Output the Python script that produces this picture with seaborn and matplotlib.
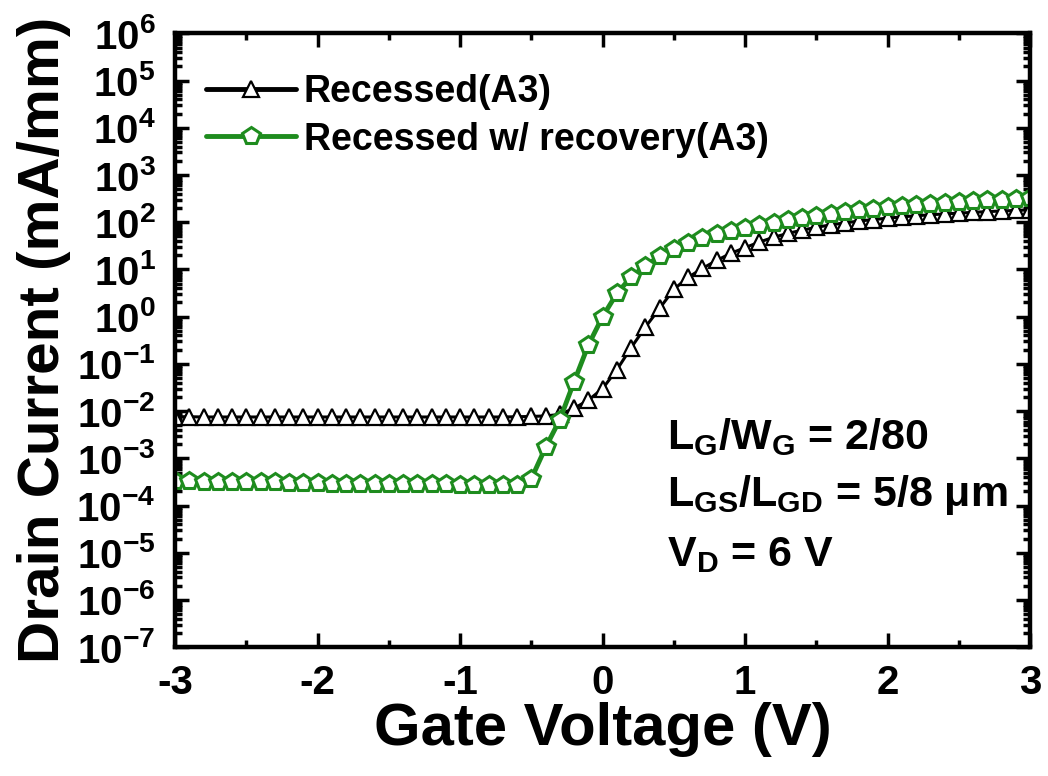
import numpy as np
import pandas as pd
import seaborn as sns
import matplotlib.pyplot as plt
from matplotlib.ticker import LogLocator, MultipleLocator, NullFormatter

sns.set_style("ticks")
plt.rcParams["font.family"] = ["Liberation Sans", "DejaVu Sans"]
plt.rcParams["font.weight"] = "bold"
plt.rcParams["mathtext.fontset"] = "custom"
plt.rcParams["mathtext.rm"] = "Liberation Sans:bold"
plt.rcParams["mathtext.bf"] = "Liberation Sans:bold"
plt.rcParams["mathtext.it"] = "Liberation Sans:bold"
plt.rcParams["mathtext.default"] = "rm"
plt.rcParams["axes.unicode_minus"] = False
for k in ["text.color", "axes.edgecolor", "axes.labelcolor", "xtick.color", "ytick.color"]:
    plt.rcParams[k] = "black"

# gate voltage sweep, -3 .. 3 V in 0.1 V steps
vg = [round(-3.0 + 0.1 * i, 1) for i in range(61)]

# Recessed (A3)
id_recessed = [
    7.6e-3, 7.6e-3, 7.5e-3, 7.5e-3, 7.5e-3, 7.5e-3, 7.5e-3, 7.5e-3, 7.5e-3, 7.5e-3,
    7.5e-3, 7.5e-3, 7.5e-3, 7.5e-3, 7.5e-3, 7.5e-3, 7.5e-3, 7.5e-3, 7.5e-3, 7.5e-3,
    7.5e-3, 7.5e-3, 7.5e-3, 7.5e-3, 7.6e-3, 7.7e-3, 7.9e-3, 8.5e-3, 1.15e-2, 1.7e-2,
    3.0e-2, 7.5e-2, 0.22, 0.6, 1.5, 3.8, 6.8, 10.5, 15.5, 22.0,
    29.0, 38.0, 48.0, 58.0, 68.0, 78.0, 88.0, 97.0, 106.0, 114.0,
    122.0, 130.0, 137.0, 144.0, 150.0, 156.0, 162.0, 168.0, 173.0, 178.0,
    183.0,
]

# Recessed w/ recovery (A3)
id_recovery = [
    3.3e-4, 3.3e-4, 3.2e-4, 3.2e-4, 3.2e-4, 3.1e-4, 3.1e-4, 3.1e-4, 3.0e-4, 3.0e-4,
    3.0e-4, 2.9e-4, 2.9e-4, 2.9e-4, 2.9e-4, 2.8e-4, 2.8e-4, 2.8e-4, 2.8e-4, 2.8e-4,
    2.7e-4, 2.7e-4, 2.7e-4, 2.7e-4, 2.7e-4, 3.7e-4, 1.7e-3, 6.6e-3, 4.2e-2, 0.25,
    1.0, 3.1, 6.9, 12.0, 19.0, 27.0, 36.0, 46.0, 56.0, 66.0,
    76.0, 86.0, 98.0, 110.0, 122.0, 136.0, 150.0, 164.0, 180.0, 195.0,
    208.0, 220.0, 232.0, 244.0, 256.0, 267.0, 278.0, 290.0, 300.0, 310.0,
    320.0,
]

green = "#1e8c1e"

fig = plt.figure(figsize=(10.48, 7.76), dpi=100)
ax = fig.add_axes([0.167, 0.166, 0.816, 0.791])

sns.lineplot(x=vg, y=id_recessed, ax=ax, color="black", lw=2.2,
             marker="^", ms=11, mfc="white", mec="black", mew=1.6,
             label="Recessed(A3)")
sns.lineplot(x=vg, y=id_recovery, ax=ax, color=green, lw=3.5,
             marker="p", ms=13, mfc="white", mec=green, mew=2.2,
             label="Recessed w/ recovery(A3)")

ax.set_yscale("log")
ax.set_xlim(-3, 3)
ax.set_ylim(1e-7, 1e6)

ax.yaxis.set_major_locator(LogLocator(base=10, numticks=30))
ax.yaxis.set_minor_locator(LogLocator(base=10, subs=np.arange(2, 10), numticks=300))
ax.yaxis.set_minor_formatter(NullFormatter())
ax.xaxis.set_major_locator(MultipleLocator(1))
ax.xaxis.set_minor_locator(MultipleLocator(0.5))

ax.tick_params(which="both", direction="in", top=True, right=True, width=2.5)
ax.tick_params(which="major", length=10, labelsize=29)
ax.tick_params(which="minor", length=5)
ax.tick_params(axis="x", which="major", pad=12)
ax.tick_params(axis="y", which="major", pad=14)
for s in ax.spines.values():
    s.set_linewidth(3.2)

ax.set_xlabel("Gate Voltage (V)", fontsize=43, fontweight="bold", labelpad=0)
ax.set_ylabel("Drain Current (mA/mm)", fontsize=42, fontweight="bold", labelpad=4)

leg = ax.legend(loc="upper left", frameon=False, fontsize=27, handlelength=2.4,
                borderaxespad=0.2, handletextpad=0.2, labelspacing=0.3,
                bbox_to_anchor=(0.01, 0.97))
for h in leg.get_lines():
    h.set_linewidth(3.5)

ax.text(0.575, 0.342, r"L$_\mathregular{G}$/W$_\mathregular{G}$ = 2/80",
        transform=ax.transAxes, fontsize=31, fontweight="bold", va="center")
ax.text(0.575, 0.248, r"L$_\mathregular{GS}$/L$_\mathregular{GD}$ = 5/8 μm",
        transform=ax.transAxes, fontsize=31, fontweight="bold", va="center")
ax.text(0.575, 0.150, r"V$_\mathregular{D}$ = 6 V",
        transform=ax.transAxes, fontsize=31, fontweight="bold", va="center")

fig.savefig("out.png", dpi=100)
